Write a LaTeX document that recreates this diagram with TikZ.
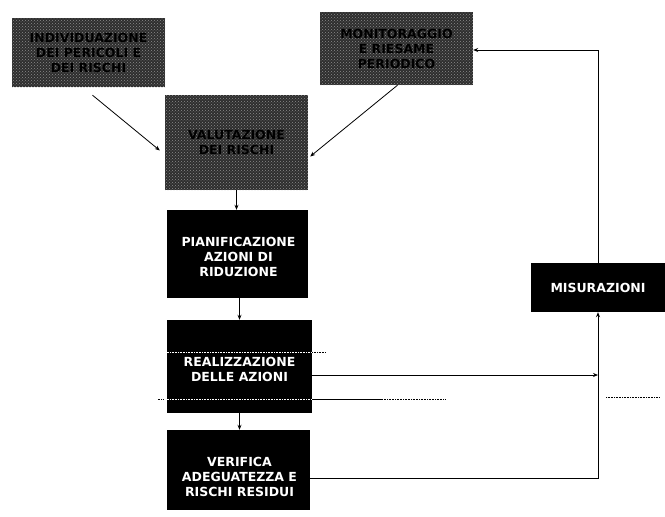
\documentclass[tikz,border=0pt]{standalone}
\usepackage{fontspec}
\setmainfont{DejaVu Sans}
\usetikzlibrary{arrows.meta,patterns}
\begin{document}
\begin{tikzpicture}[x=1pt,y=-1pt,
  boxtext/.style={align=center,inner sep=0pt,
    font=\bfseries\fontsize{12.5}{15}\selectfont},
  darkbox/.style={boxtext,fill=black,text=white},
  whitetext/.style={boxtext,text=white},
  greybox/.style={boxtext,text=black,
    preaction={fill=black!82},pattern=crosshatch dots,pattern color=black!45},
  link/.style={line width=0.8pt,-{Stealth[length=5pt,width=4pt]}},
  wire/.style={line width=0.8pt},
  faint/.style={line width=0.6pt,densely dotted}]
\useasboundingbox (0,0) rectangle (665,517);

% inputs and assessment
\node[greybox,minimum width=153pt,minimum height=69pt] (tl) at (88.5,52.5)
  {INDIVIDUAZIONE\\DEI PERICOLI E\\DEI RISCHI};
\node[greybox,minimum width=153pt,minimum height=73pt] (tr) at (396.5,48.5)
  {MONITORAGGIO\\E RIESAME\\PERIODICO};
\node[greybox,minimum width=143pt,minimum height=95pt] (val) at (236.5,142.5)
  {VALUTAZIONE\\DEI RISCHI};

% action chain: boxes, then their captions set slightly low
\node[darkbox,minimum width=141pt,minimum height=88pt] (pian) at (237.5,254) {};
\node[darkbox,minimum width=145pt,minimum height=93pt] (real) at (239.5,366.5) {};
\node[darkbox,minimum width=143pt,minimum height=80pt] (ver) at (238.5,470) {};
\node[darkbox,minimum width=134pt,minimum height=49pt] (mis) at (598,287.5)
  {MISURAZIONI};
\node[whitetext] (pian-t) at ([shift={(1,3)}]pian.center)
  {PIANIFICAZIONE\\AZIONI DI\\RIDUZIONE};
\node[whitetext] (real-t) at ([shift={(0,2.5)}]real.center)
  {REALIZZAZIONE\\DELLE AZIONI};
\node[whitetext] (ver-t) at ([shift={(1,7)}]ver.center)
  {VERIFICA\\ADEGUATEZZA E\\RISCHI RESIDUI};

% ruled lines across the realisation step
\draw[faint,white] ([shift={(0,-14.5)}]real.west) -- ([shift={(0,-14.5)}]real.east);
\draw[faint] ([shift={(0,-14.5)}]real.east) -- ([shift={(13,-14.5)}]real.east);
\draw[faint,white] ([shift={(0,32.5)}]real.west) -- ([shift={(0,32.5)}]real.east);
\draw[faint] ([shift={(-9,32.5)}]real.west) -- ([shift={(-4,32.5)}]real.west);
\draw[wire] ([shift={(0,32.5)}]real.east) -- ([shift={(70,32.5)}]real.east);
\draw[faint] ([shift={(70,32.5)}]real.east) -- ([shift={(133,32.5)}]real.east);

% arrows into the assessment
\draw[link] ([shift={(4,8)}]tl.south) -- ([shift={(-5,8)}]val.west);
\draw[link] ([shift={(1,0)}]tr.south) -- ([shift={(2,14)}]val.east);

% vertical flow
\draw[link] (val.south) -- (val.south |- pian.north);
\draw[link] ([shift={(2,0)}]pian.south) -- ([shift={(2,0)}]pian.south |- real.north);
\draw[link] (real.south) -- (real.south |- ver.north);

% feedback through the measurements
\coordinate (rjoin) at (598,375);
\draw[link] ([shift={(0,8.5)}]real.east) -- (rjoin);
\draw[link] ([shift={(0,8)}]ver.east) -| (mis.south);
\draw[link] (mis.north) |- ([shift={(0,1.5)}]tr.east);
\draw[faint] (606,397) -- (660,397);
\end{tikzpicture}
\end{document}
